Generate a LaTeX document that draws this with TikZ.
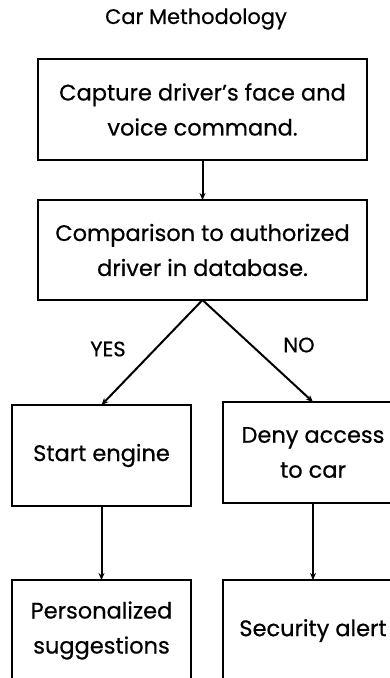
\documentclass[tikz,border=0pt]{standalone}
\usepackage{fontspec}
\setmainfont{Poppins}[FakeBold=0.6]
\usetikzlibrary{arrows.meta}
\begin{document}
\begin{tikzpicture}
	[x=1pt, y=-1pt, line width=2pt,
	 every node/.style={inner sep=0, outer sep=0, align=center,
	   font=\fontsize{22.5}{35}\selectfont},
	 stepbox/.style={draw, line width=2.2pt, minimum height=101pt},
	 >={Stealth[length=7pt, width=6pt]}]
	\useasboundingbox (0, 0) rectangle (390, 678);
	\clip (0, 0) rectangle (390, 678);
	\node (title) [font=\fontsize{21}{24}\selectfont] at (196, 19) {Car Methodology};
	\node (capture) [stepbox, minimum width=329pt] at (202.5, 109.5) {Capture driver's face and \\ voice command.};
	\node (compare) [stepbox, minimum width=329pt, minimum height=100pt] at (202.5, 250) {Comparison to authorized \\ driver in database.};
	\node (start) [stepbox, minimum width=179pt] at (101.5, 455.5) {Start engine};
	\node (deny) [stepbox, minimum width=180pt] at (313, 452.5) {Deny access \\ to car};
	\node (suggest) [stepbox, minimum width=179pt] at (101.5, 630.5) {Personalized \\ suggestions};
	\node (alert) [stepbox, minimum width=180pt] at (313, 630.5) {Security alert};
	\draw [->] (capture) -- (compare);
	\draw [->] (compare.south) -- (start.north);
	\draw [->] (compare.south) -- (deny.north);
	\draw [->] (start) -- (suggest);
	\draw [->] (deny) -- (alert);
	\node (yes) [font=\fontsize{21}{24}\selectfont] at (108, 349) {YES};
	\node (no) [font=\fontsize{21}{24}\selectfont] at (299, 345) {NO};
\end{tikzpicture}
\end{document}
